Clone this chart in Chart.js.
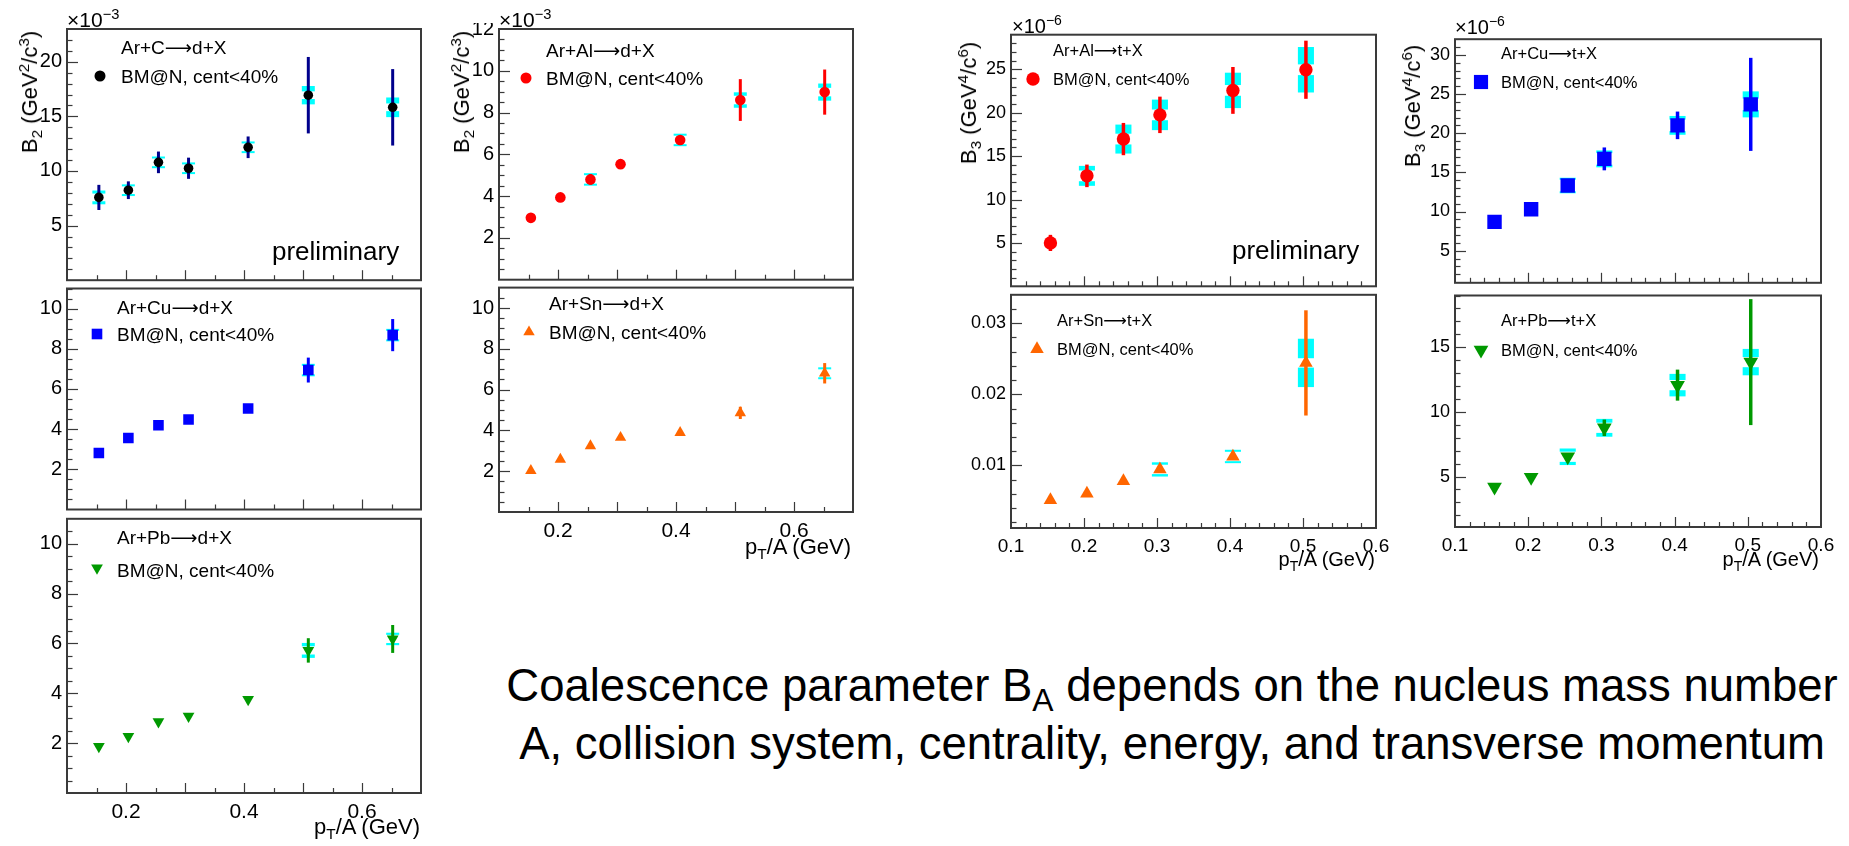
<!DOCTYPE html>
<html>
<head>
<meta charset="utf-8">
<script src="https://cdn.jsdelivr.net/npm/chart.js@4.4.0/dist/chart.umd.min.js"></script>
<style>
body { margin:0; background:#fff; width:1849px; height:846px; overflow:hidden; position:relative;
       font-family:"Liberation Sans", Arial, sans-serif; color:#000; }
canvas { position:absolute; }
.t { position:absolute; white-space:nowrap; line-height:1; }
.rot { transform: translate(-50%,-50%) rotate(-90deg); }
.arr { font-family:"DejaVu Sans", sans-serif; }
sub, sup { font-size:70%; line-height:0; }
</style>
</head>
<body>
<script>
// pT/A bin centres
const xD = [0.154, 0.204, 0.255, 0.306, 0.407, 0.509, 0.652];
const xT = [0.154, 0.204, 0.254, 0.304, 0.404, 0.504];

// B2 deuterons (x10^-3)
const b2ArC  = [7.58, 8.24, 10.79, 10.25, 12.17, 16.94, 15.83];
const statArC = [1.15, 0.81, 0.99, 0.97, 0.99, 3.5, 3.5];
const sysArC  = [0.63, 0.52, 0.39, 0.46, 0.40, 0.84, 0.90];

const b2ArAl  = [2.96, 3.94, 4.80, 5.53, 6.69, 8.60, 8.98];
const statArAl = [0.08, 0.08, 0.25, 0.20, 0.20, 1.0, 1.08];
const sysArAl  = [0.05, 0.05, 0.21, 0.20, 0.21, 0.37, 0.41];

const b2ArCu  = [2.81, 3.56, 4.19, 4.48, 5.03, 6.94, 8.68];
const statArCu = [0.05, 0.05, 0.05, 0.05, 0.08, 0.62, 0.80];
const sysArCu  = [0.05, 0.05, 0.05, 0.05, 0.05, 0.25, 0.30];

const b2ArSn  = [2.03, 2.58, 3.24, 3.65, 3.89, 4.86, 6.80];
const statArSn = [0.03, 0.03, 0.05, 0.05, 0.07, 0.30, 0.50];
const sysArSn  = [0.03, 0.03, 0.03, 0.03, 0.05, 0.10, 0.25];

const b2ArPb  = [1.87, 2.27, 2.86, 3.08, 3.75, 5.72, 6.18];
const statArPb = [0.03, 0.03, 0.05, 0.05, 0.07, 0.49, 0.56];
const sysArPb  = [0.03, 0.03, 0.03, 0.03, 0.05, 0.30, 0.25];

// B3 tritons (x10^-6, Sn without factor)
const b3ArAl  = [5.0, 12.73, 16.97, 19.76, 22.58, 24.96];
const stat3ArAl = [0.93, 1.3, 1.86, 2.1, 2.7, 3.35];
const sys3ArAl  = [0.3, 1.15, 1.67, 1.76, 2.04, 2.62];

const b3ArCu  = [8.68, 10.28, 13.32, 16.72, 21.0, 23.68];
const stat3ArCu = [0.1, 0.1, 0.76, 1.46, 1.76, 5.94];
const sys3ArCu  = [0.2, 0.2, 0.88, 1.08, 1.2, 1.66];

const b3ArSn  = [0.00512, 0.00605, 0.00781, 0.00944, 0.01126, 0.02442];
const stat3ArSn = [0.0002, 0.0002, 0.0003, 0.0004, 0.0005, 0.0074];
const sys3ArSn  = [0.0001, 0.0001, 0.0002, 0.0010, 0.0009, 0.0034];

const b3ArPb  = [4.19, 4.95, 6.53, 8.77, 12.07, 13.85];
const stat3ArPb = [0.1, 0.1, 0.2, 0.64, 1.2, 4.87];
const sys3ArPb  = [0.1, 0.1, 0.64, 0.69, 0.87, 1.02];

// tick labels
const xTicksD = [0.2, 0.4, 0.6];
const xTicksT = [0.1, 0.2, 0.3, 0.4, 0.5, 0.6];
const yTicksCd = [5, 10, 15, 20];
const yTicksAld = [2, 4, 6, 8, 10, 12];
const yTicks11 = [2, 4, 6, 8, 10];
const yTicksAlt = [5, 10, 15, 20, 25];
const yTicksCut = [5, 10, 15, 20, 25, 30];
const yTicksSnt = [0.01, 0.02, 0.03];
const yTicksPbt = [5, 10, 15];

const RED = '#ff0000', BLUE = '#0000ff', ORANGE = '#ff6600', GREEN = '#009900', CYAN = '#00ffff';

const dAxis = { xMin:0.1, xMax:0.7, xMajor:0.1, xMinor:0.05, xTicks:xTicksD, yFont:20, xFont:21, statW:3 };
const tAxis = { xMin:0.1, xMax:0.6, xMajor:0.1, xMinor:0.02, xTicks:xTicksT, yFont:18, xFont:19, statW:3.5 };

const panels = [
  { ...dAxis, frame:[67,29,421,285], showX:false, yMin:0, yMax:23, yTicks:yTicksCd, yMinor:1,
    xs:xD, ys:b2ArC, stat:statArC, sys:sysArC, color:'#000', statColor:'#00008c',
    style:'circle', r:4.8, rot:0, legR:5.5, reaction:['Ar+C', 'd+X'], leg:[100,76,121,47,76], legFont:19 },
  { ...dAxis, frame:[499,29,853,285], showX:false, yMin:0, yMax:12, yTicks:yTicksAld, yMinor:0.5,
    xs:xD, ys:b2ArAl, stat:statArAl, sys:sysArAl, color:RED, statColor:RED,
    style:'circle', r:5.3, rot:0, legR:5.5, reaction:['Ar+Al', 'd+X'], leg:[526,78,546,50,78], legFont:19 },
  { ...dAxis, frame:[67,287,421,517], showX:false, yMin:0, yMax:11, yTicks:yTicks11, yMinor:0.5,
    xs:xD, ys:b2ArCu, stat:statArCu, sys:sysArCu, color:BLUE, statColor:BLUE,
    style:'rect', r:7.5, rot:0, legR:7.5, reaction:['Ar+Cu', 'd+X'], leg:[97,334,117,307,334], legFont:19 },
  { ...dAxis, frame:[499,287,853,512], showX:true, yMin:0, yMax:11, yTicks:yTicks11, yMinor:0.5,
    xs:xD, ys:b2ArSn, stat:statArSn, sys:sysArSn, color:ORANGE, statColor:ORANGE,
    style:'triangle', r:6.6, rot:0, legR:6.6, reaction:['Ar+Sn', 'd+X'], leg:[529,332,549,303,332], legFont:19 },
  { ...dAxis, frame:[67,518,421,793], showX:true, yMin:0, yMax:11, yTicks:yTicks11, yMinor:0.5,
    xs:xD, ys:b2ArPb, stat:statArPb, sys:sysArPb, color:GREEN, statColor:GREEN,
    style:'triangle', r:6.8, rot:180, legR:6.8, reaction:['Ar+Pb', 'd+X'], leg:[97,568,117,537,570], legFont:19 },
  { ...tAxis, frame:[1011,34,1376,293], showX:false, yMin:0, yMax:29, yTicks:yTicksAlt, yMinor:1,
    xs:xT, ys:b3ArAl, stat:stat3ArAl, sys:sys3ArAl, color:RED, statColor:RED,
    style:'circle', r:6.7, rot:0, legR:6.7, reaction:['Ar+Al', 't+X'], leg:[1033,79,1053,50,79], legFont:16.5 },
  { ...tAxis, frame:[1455,35,1821,293], showX:false, yMin:0.9, yMax:32, yTicks:yTicksCut, yMinor:1,
    xs:xT, ys:b3ArCu, stat:stat3ArCu, sys:sys3ArCu, color:BLUE, statColor:BLUE,
    style:'rect', r:10.2, rot:0, legR:10, reaction:['Ar+Cu', 't+X'], leg:[1481,82,1501,53,82], legFont:16.5 },
  { ...tAxis, frame:[1011,293,1376,528], showX:true, yMin:0.0012, yMax:0.034, yTicks:yTicksSnt, yMinor:0.002,
    xs:xT, ys:b3ArSn, stat:stat3ArSn, sys:sys3ArSn, color:ORANGE, statColor:ORANGE,
    style:'triangle', r:7.8, rot:0, legR:7.8, reaction:['Ar+Sn', 't+X'], leg:[1037,349,1057,320,349], legFont:16.5 },
  { ...tAxis, frame:[1455,293,1821,527], showX:true, yMin:1.1, yMax:19, yTicks:yTicksPbt, yMinor:1,
    xs:xT, ys:b3ArPb, stat:stat3ArPb, sys:sys3ArPb, color:GREEN, statColor:GREEN,
    style:'triangle', r:8.5, rot:180, legR:8.5, reaction:['Ar+Pb', 't+X'], leg:[1481,350,1501,320,350], legFont:16.5 }
];

const YW = 62, PT = 6, PR = 16, XH = 32;

function stepValues(min, max, step) {
  const out = [];
  for (let k = Math.ceil(min / step - 1e-6); k * step <= max + 1e-9; k++) out.push(+(k * step).toFixed(6));
  return out;
}

function markerHeight(p) {
  if (p.style === 'circle') return 2 * p.r;
  if (p.style === 'rect') return 1.414 * p.r;
  return 1.5 * p.r;
}

function drawMarker(ctx, p, x, y, r) {
  const o = { pointStyle: p.style, radius: r, rotation: p.rot, borderWidth: 0 };
  ctx.fillStyle = p.color;
  if (Chart.helpers && Chart.helpers.drawPoint) {
    Chart.helpers.drawPoint(ctx, o, x, y);
  } else {
    ctx.beginPath(); ctx.arc(x, y, r, 0, Math.PI * 2); ctx.fill();
  }
}

const rootStyle = {
  id: 'rootStyle',
  beforeDatasetsDraw(chart, args, opts) {
    const p = opts.panel;
    const { ctx, scales: { x, y } } = chart;
    const gap = 0.4 * markerHeight(p);
    ctx.save();
    p.xs.forEach((xv, i) => {
      const px = x.getPixelForValue(xv);
      const py = y.getPixelForValue(p.ys[i]);
      const hw = x.getPixelForValue(xv + 0.011) - px;
      const top = y.getPixelForValue(p.ys[i] + p.sys[i]);
      const bot = y.getPixelForValue(p.ys[i] - p.sys[i]);
      ctx.fillStyle = CYAN;
      if (py - top > gap) {
        const t1 = Math.min(top, py - gap - 2);
        ctx.fillRect(px - hw, t1, 2 * hw, py - gap - t1);
        const b1 = Math.max(bot, py + gap + 2);
        ctx.fillRect(px - hw, py + gap, 2 * hw, b1 - py - gap);
      }
      ctx.strokeStyle = p.statColor;
      ctx.lineWidth = p.statW;
      ctx.beginPath();
      ctx.moveTo(px, y.getPixelForValue(p.ys[i] + p.stat[i]));
      ctx.lineTo(px, y.getPixelForValue(p.ys[i] - p.stat[i]));
      ctx.stroke();
    });
    ctx.restore();
  },
  afterDraw(chart, args, opts) {
    const p = opts.panel;
    const { ctx, chartArea: a, scales: { x, y } } = chart;
    ctx.save();
    ctx.strokeStyle = '#3a3a3a';
    ctx.lineWidth = 1.2;
    // inward ticks on the left axis
    stepValues(p.yMin, p.yMax, p.yMinor).forEach(v => {
      const major = p.yTicks.some(t => Math.abs(t - v) < p.yMinor / 10);
      const py = Math.round(y.getPixelForValue(v)) + 0.5;
      if (py < a.top + 1 || py > a.bottom - 1) return;
      ctx.beginPath(); ctx.moveTo(a.left, py); ctx.lineTo(a.left + (major ? 11 : 5.5), py); ctx.stroke();
    });
    // inward ticks on the bottom axis
    stepValues(p.xMin, p.xMax, p.xMinor).forEach(v => {
      const major = Math.abs(v / p.xMajor - Math.round(v / p.xMajor)) < 1e-4;
      const px = Math.round(x.getPixelForValue(v)) + 0.5;
      if (px < a.left + 1 || px > a.right - 1) return;
      ctx.beginPath(); ctx.moveTo(px, a.bottom); ctx.lineTo(px, a.bottom - (major ? 10 : 5)); ctx.stroke();
    });
    ctx.lineWidth = 2;
    ctx.strokeRect(a.left, a.top, a.right - a.left, a.bottom - a.top);
    // legend marker
    const c = chart.canvas;
    drawMarker(ctx, p, p.leg[0] - parseFloat(c.style.left), p.leg[1] - parseFloat(c.style.top), p.legR);
    ctx.restore();
  }
};

function addText(html, left, top, size, cls) {
  const d = document.createElement('div');
  d.className = 't' + (cls ? ' ' + cls : '');
  d.style.left = left + 'px';
  d.style.top = top + 'px';
  d.style.fontSize = size + 'px';
  d.innerHTML = html;
  document.body.appendChild(d);
  return d;
}

panels.forEach(p => {
  const [l, t, r, b] = p.frame;
  const cv = document.createElement('canvas');
  cv.width = (r - l) + YW + PR;
  cv.height = (b - t) + PT + (p.showX ? XH : 0);
  cv.style.left = (l - YW) + 'px';
  cv.style.top = (t - PT) + 'px';
  document.body.appendChild(cv);

  new Chart(cv, {
    type: 'scatter',
    data: {
      datasets: [{
        data: p.xs.map((v, i) => ({ x: v, y: p.ys[i] })),
        pointStyle: p.style,
        pointRadius: p.r,
        pointRotation: p.rot,
        backgroundColor: p.color,
        borderColor: p.color,
        borderWidth: 0
      }]
    },
    options: {
      animation: false,
      responsive: false,
      devicePixelRatio: 1,
      layout: { padding: { top: PT, right: PR, left: 0, bottom: 0 } },
      plugins: { legend: { display: false }, tooltip: { enabled: false }, rootStyle: { panel: p } },
      scales: {
        x: {
          type: 'linear', min: p.xMin, max: p.xMax,
          grid: { display: false, drawTicks: false }, border: { display: false },
          ticks: { display: p.showX, color: '#000', padding: 7, maxRotation: 0, autoSkip: false,
                   font: { family: 'Liberation Sans', size: p.xFont }, callback: v => String(v) },
          afterBuildTicks: s => { s.ticks = p.xTicks.map(v => ({ value: v })); },
          afterFit: s => { s.height = p.showX ? XH : 0; s.paddingLeft = 0; s.paddingRight = 0; }
        },
        y: {
          type: 'linear', min: p.yMin, max: p.yMax,
          grid: { display: false, drawTicks: false }, border: { display: false },
          ticks: { color: '#000', padding: 5, autoSkip: false,
                   font: { family: 'Liberation Sans', size: p.yFont }, callback: v => String(v) },
          afterBuildTicks: s => { s.ticks = p.yTicks.map(v => ({ value: v })); },
          afterFit: s => { s.width = YW; s.paddingTop = 0; s.paddingBottom = 0; }
        }
      }
    },
    plugins: [rootStyle]
  });

  const lf = p.legFont;
  addText(p.reaction[0] + '<span class="arr">⟶</span>' + p.reaction[1], p.leg[2], p.leg[3] - 0.5 * lf, lf);
  addText('BM@N, cent&lt;40%', p.leg[2], p.leg[4] - 0.5 * lf, lf);
});

// axis titles
const B2 = 'B<sub>2</sub> (GeV<sup>2</sup>/c<sup>3</sup>)';
const B3 = 'B<sub>3</sub> (GeV<sup>4</sup>/c<sup>6</sup>)';
addText(B2, 30, 92, 22, 'rot');
addText(B2, 462, 92, 22, 'rot');
addText(B3, 969, 103, 22, 'rot');
addText(B3, 1413, 106, 22, 'rot');

addText('×10<sup>−3</sup>', 67, 27 - 0.85 * 21, 21);
addText('×10<sup>−3</sup>', 499, 27 - 0.85 * 21, 21);
addText('×10<sup>−6</sup>', 1012, 33 - 0.85 * 20, 20);
addText('×10<sup>−6</sup>', 1455, 34 - 0.85 * 20, 20);

const PTA = 'p<sub>T</sub>/A (GeV)';
[[851, 555, 22], [420, 835, 22], [1375, 566, 20], [1819, 566, 20]].forEach(([rx, base, fs]) => {
  const d = addText(PTA, rx, base - 0.85 * fs, fs);
  d.style.transform = 'translateX(-100%)';
});

addText('preliminary', 272, 260 - 0.85 * 26, 26);
addText('preliminary', 1232, 259 - 0.85 * 26, 26);

const note = addText('Coalescence parameter B<sub>A</sub> depends on the nucleus mass number<br>A, collision system, centrality, energy, and transverse momentum',
  472, 657, 45.5);
note.style.width = '1400px';
note.style.textAlign = 'center';
note.style.lineHeight = '58px';
</script>
</body>
</html>
